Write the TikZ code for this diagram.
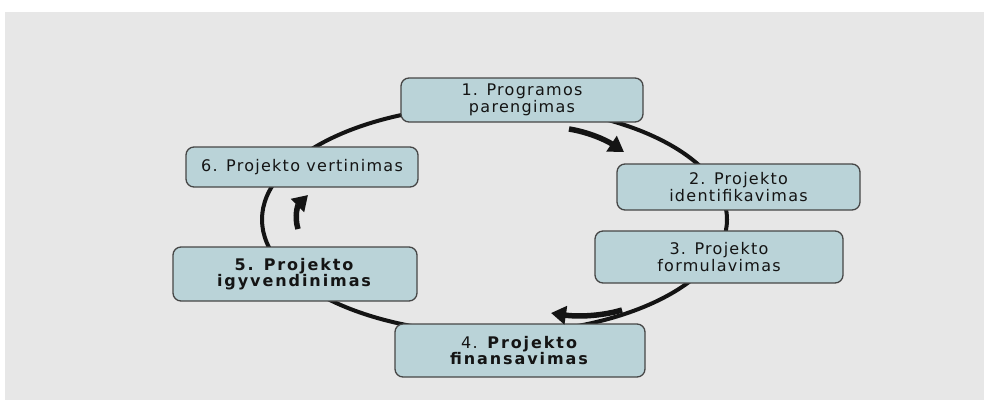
\documentclass[tikz,border=0pt]{standalone}
\usepackage{fontspec}
\setmainfont{DejaVu Sans}[LetterSpace=8, BoldFeatures={LetterSpace=12}]
\usetikzlibrary{arrows.meta}
\definecolor{bggray}{RGB}{231,231,231}
\definecolor{boxfill}{RGB}{186,211,216}
\definecolor{boxline}{RGB}{70,70,70}
\definecolor{ink}{RGB}{20,20,20}
\begin{document}
\begin{tikzpicture}[x=1pt,y=-1pt,
  stage/.style={draw=boxline, line width=1.3pt, fill=boxfill, rounded corners=8pt,
    align=center, font=\fontsize{16}{14}\selectfont, text=ink, inner sep=0pt},
  ring/.style={draw=ink, line width=4pt},
  flow/.style={draw=ink, line width=5.5pt, -{Triangle[length=15pt,width=18pt]}}]
\useasboundingbox (0,0) rectangle (984,400);
\fill[white] (0,0) rectangle (984,400);
\fill[bggray] (5,12) rectangle (984,400);
% cycle ring
\draw[ring] (494.5,219.5) ellipse [x radius=232.5pt, y radius=114pt];
% stages
\node[stage, minimum width=242pt, minimum height=44pt] (s1) at (522,100) {1. Programos\\parengimas};
\node[stage, minimum width=243pt, minimum height=46pt] (s2) at (738.5,187) {2. Projekto\\identifikavimas};
\node[stage, minimum width=248pt, minimum height=52pt] (s3) at (719,257) {3. Projekto\\formulavimas};
\node[stage, minimum width=250pt, minimum height=53pt] (s4) at (520,350.5) {4. \textbf{Projekto}\\\textbf{finansavimas}};
\node[stage, minimum width=244pt, minimum height=54pt] (s5) at (295,274) {\textbf{5. Projekto}\\\textbf{igyvendinimas}};
\node[stage, minimum width=232pt, minimum height=40pt] (s6) at (302,167) {6. Projekto vertinimas};
% direction arrows
\coordinate (a1s) at (569,129);
\coordinate (a1e) at (624,152);
\coordinate (a2s) at (298,229);
\coordinate (a2e) at (308,195);
\coordinate (a3s) at (622,310);
\coordinate (a3e) at (551,313);
\draw[flow] (a1s) .. controls (588,132) and (606,140) .. (a1e);
\draw[flow] (a2s) .. controls (294,216) and (298,205) .. (a2e);
\draw[flow] (a3s) .. controls (602,316) and (578,317) .. (a3e);
\end{tikzpicture}
\end{document}
